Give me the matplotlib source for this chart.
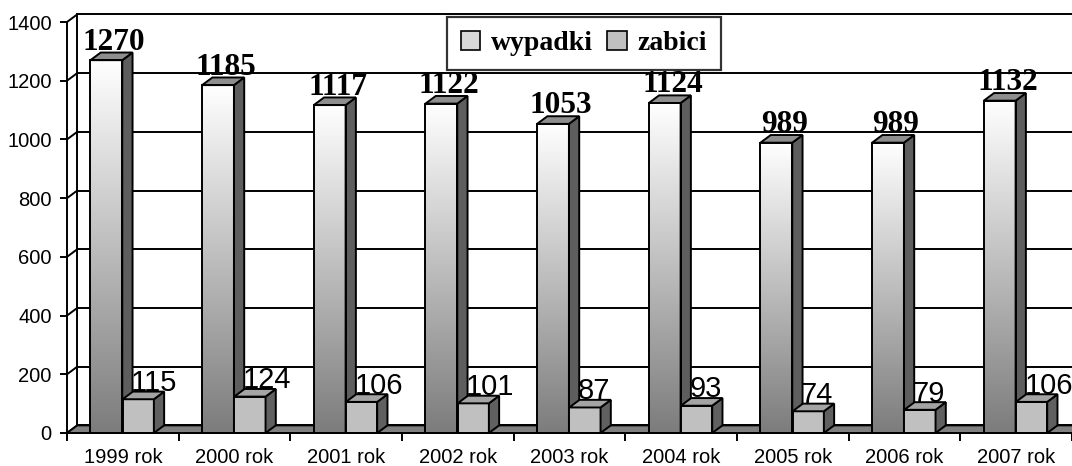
import numpy as np
import matplotlib
matplotlib.use("Agg")
import matplotlib.pyplot as plt
from matplotlib.patches import Polygon, Patch
from matplotlib.colors import LinearSegmentedColormap

years = ['1999 rok', '2000 rok', '2001 rok', '2002 rok', '2003 rok',
         '2004 rok', '2005 rok', '2006 rok', '2007 rok']
wypadki = [1270, 1185, 1117, 1122, 1053, 1124, 989, 989, 1132]
zabici = [115, 124, 106, 101, 87, 93, 74, 79, 106]
yticks = [0, 200, 400, 600, 800, 1000, 1200, 1400]

W, H = 1072, 466
fig = plt.figure(figsize=(W / 100, H / 100), dpi=100)
ax = fig.add_axes([67 / W, (H - 433) / H, (W - 67) / W, 411 / H])
n = len(years)
ax.set_xlim(0, n)
ax.set_ylim(0, 1400)

DX, DY = 0.092, 26   # depth offset (category units, value units)
LW = 1.4

# back wall + left wall
ax.plot([DX, DX], [DY, 1400 + DY], color='black', lw=LW, clip_on=False)
for v in yticks:
    ax.plot([DX, n + 0.5], [v + DY, v + DY], color='black', lw=LW, clip_on=False, zorder=1)
    ax.plot([0, DX], [v, v + DY], color='black', lw=LW, clip_on=False, zorder=1)

# floor
ax.add_patch(Polygon([(0, 0), (n + 0.5, 0), (n + 0.5 + DX, DY), (DX, DY)],
                     closed=True, fc='#808080', ec='black', lw=LW, clip_on=False, zorder=2))

cmap = LinearSegmentedColormap.from_list('g', ['#7c7c7c', '#ffffff'])
grad = np.linspace(1, 0, 256).reshape(-1, 1)


def box(x0, w, h, front, side, top, z):
    if front is not None:
        ax.add_patch(Polygon([(x0, 0), (x0 + w, 0), (x0 + w, h), (x0, h)], closed=True,
                             fc=front, ec='black', lw=LW, clip_on=False, zorder=z))
    else:
        ax.imshow(grad, extent=(x0, x0 + w, 0, h), cmap=cmap, aspect='auto',
                  zorder=z, clip_on=False, interpolation='bilinear')
        ax.add_patch(Polygon([(x0, 0), (x0 + w, 0), (x0 + w, h), (x0, h)], closed=True,
                             fill=False, ec='black', lw=LW, clip_on=False, zorder=z + 0.1))
    ax.add_patch(Polygon([(x0 + w, 0), (x0 + w + DX, DY), (x0 + w + DX, h + DY), (x0 + w, h)],
                         closed=True, fc=side, ec='black', lw=LW, clip_on=False, zorder=z))
    ax.add_patch(Polygon([(x0, h), (x0 + w, h), (x0 + w + DX, h + DY), (x0 + DX, h + DY)],
                         closed=True, fc=top, ec='black', lw=LW, clip_on=False, zorder=z))


for i in range(n):
    xw = i + 0.21
    box(xw, 0.285, wypadki[i], None, '#5e5e5e', '#8e8e8e', 3 + i * 0.01)
    ax.text(xw + 0.285 / 2 + 0.07, wypadki[i] + DY + 10, str(wypadki[i]),
            ha='center', va='baseline', fontsize=22.5, fontweight='bold',
            family='Liberation Serif', zorder=6, clip_on=False)
    xz = i + 0.498
    box(xz, 0.28, zabici[i], '#c0c0c0', '#606060', '#a4a4a4', 4 + i * 0.01)
    ax.text(xz + 0.075, zabici[i] + DY + 2, str(zabici[i]),
            ha='left', va='baseline', fontsize=21, family='Liberation Sans',
            zorder=6, clip_on=False)

ax.set_xlim(0, n)
ax.set_ylim(0, 1400)

for s in ['top', 'right']:
    ax.spines[s].set_visible(False)
for s in ['left', 'bottom']:
    ax.spines[s].set_linewidth(LW)
    ax.spines[s].set_zorder(7)

ax.set_yticks(yticks)
ax.set_yticklabels([str(v) for v in yticks], family='Liberation Sans', fontsize=14.5)
ax.set_xticks(np.arange(0, n + 1))
ax.set_xticklabels([])
ax.set_xticks(np.arange(n) + 0.5, minor=True)
ax.set_xticklabels(years, minor=True, family='Liberation Sans', fontsize=14.5)
ax.tick_params(axis='y', direction='out', length=5, width=LW, pad=6)
ax.tick_params(axis='x', which='major', direction='out', length=6, width=LW)
ax.tick_params(axis='x', which='minor', length=0, pad=11)

handles = [Patch(fc='#d8d8d8', ec='black', lw=1.2), Patch(fc='#c0c0c0', ec='black', lw=1.2)]
leg = fig.legend(handles, ['wypadki', 'zabici'], ncol=2, loc='upper center',
                 bbox_to_anchor=(584 / W, 1 - 17 / H), frameon=True, fancybox=False,
                 prop={'family': 'Liberation Serif', 'weight': 'bold', 'size': 20},
                 handlelength=0.7, handleheight=0.7, handletextpad=0.4, columnspacing=0.5,
                 borderpad=0.5, borderaxespad=0)
leg.get_frame().set_edgecolor('black')
leg.get_frame().set_linewidth(1.6)
leg.set_zorder(10)

fig.savefig('out.png', dpi=100)
